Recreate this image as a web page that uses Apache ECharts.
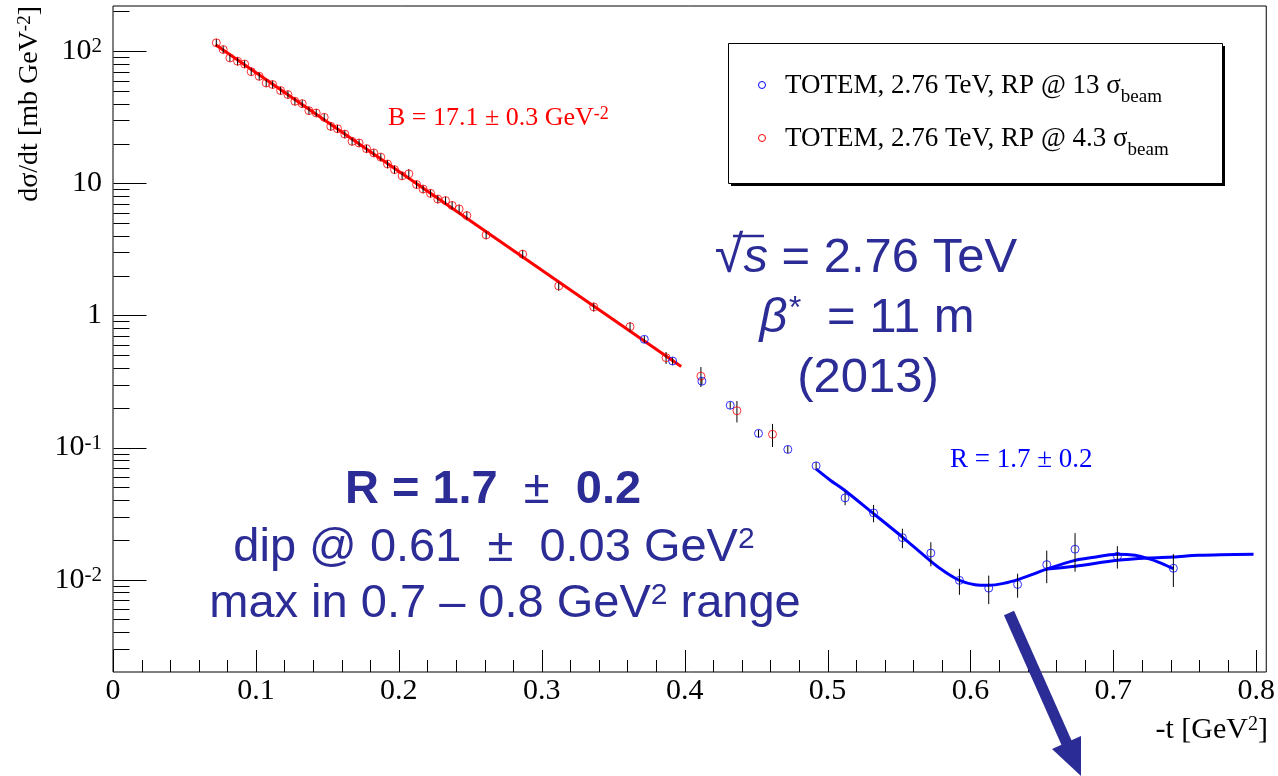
<!DOCTYPE html>
<html>
<head>
<meta charset="utf-8">
<script src="https://cdn.jsdelivr.net/npm/echarts@6/dist/echarts.min.js"></script>
<style>
  html, body { margin: 0; padding: 0; background: #fff; }
  #main { width: 1278px; height: 776px; }
</style>
</head>
<body>
<div id="main"></div>
<script>
// RP @ 4.3 sigma (red)
var redT = [0.0723, 0.0771, 0.0818, 0.0872, 0.0921, 0.0967, 0.1023, 0.1072, 0.1117, 0.1173, 0.1224, 0.1273, 0.1324, 0.1371, 0.1422, 0.1478, 0.1524, 0.1571, 0.1622, 0.1673, 0.1722, 0.1774, 0.1825, 0.1874, 0.1921, 0.197, 0.2023, 0.207, 0.2124, 0.217, 0.2222, 0.2273, 0.2327, 0.2373, 0.2422, 0.2476, 0.2611, 0.2867, 0.3119, 0.3364, 0.3618, 0.387, 0.4114, 0.4366, 0.4615];
var redY = [115.8, 103, 89, 84, 80, 70, 64.6, 57.5, 56, 50.4, 47, 41.8, 40.1, 35.5, 34.1, 31.6, 27, 25.9, 23.6, 20.8, 20.2, 18.3, 17, 15.8, 14, 12.7, 11.4, 11.8, 9.8, 9.06, 8.4, 7.6, 7.4, 6.8, 6.4, 5.7, 4.07, 2.91, 1.67, 1.16, 0.822, 0.479, 0.347, 0.19, 0.126];
var redErr = [8, 7, 6, 6, 5.5, 5, 4.5, 4, 4, 3.5, 3.3, 3, 2.8, 2.5, 2.4, 2.2, 1.9, 1.8, 1.7, 1.5, 1.4, 1.3, 1.2, 1.1, 1.0, 0.9, 0.8, 1.0, 0.7, 0.65, 0.6, 0.55, 0.55, 0.5, 0.5, 0.45, 0.3, 0.22, 0.13, 0.09, 0.07, 0.05, 0.06, 0.035, 0.025];

// RP @ 13 sigma (blue)
var blueT = [0.3718, 0.3916, 0.4121, 0.4319, 0.4517, 0.4722, 0.492, 0.5123, 0.5322, 0.5524, 0.5723, 0.5923, 0.6128, 0.633, 0.6534, 0.6732, 0.7028, 0.742];
var blueY = [0.66, 0.452, 0.318, 0.209, 0.128, 0.0968, 0.0727, 0.0416, 0.032, 0.0208, 0.0159, 0.00988, 0.00863, 0.0092, 0.013, 0.017, 0.01503, 0.0122];
var blueErr = [0.04, 0.03, 0.02, 0.013, 0.008, 0.006, 0.005, 0.005, 0.0048, 0.0035, 0.0033, 0.0022, 0.0021, 0.0019, 0.0036, 0.0055, 0.0029, 0.0034];

// fits
var redFitT = [0.0718, 0.3976];
var redFitY = [112, 0.41];
var blueFitT = [0.4921, 0.5019, 0.5119, 0.5322, 0.5524, 0.5723, 0.5823, 0.5923, 0.6032, 0.6128, 0.6242, 0.6331, 0.6429, 0.6534, 0.6732, 0.6849, 0.7028, 0.7152, 0.7245, 0.7315, 0.742];
var blueFitY = [0.0686, 0.0566, 0.0475, 0.0316, 0.0210, 0.01377, 0.01143, 0.00989, 0.00916, 0.00906, 0.00942, 0.0100, 0.01091, 0.01202, 0.0140, 0.01469, 0.01556, 0.01528, 0.01442, 0.01358, 0.01211];
var blueFit2T = [0.6534, 0.6732, 0.7028, 0.7245, 0.742, 0.7594, 0.7981];
var blueFit2Y = [0.01202, 0.01262, 0.0140, 0.01459, 0.01483, 0.01528, 0.01556];

// axes
var xMin = 0, xMax = 0.807;
var yMin = 0.002, yMax = 220;
var yMajor = [0.01, 0.1, 1, 10, 100];
var yMajorLabels = ['{b|10}{s|-2}', '{b|10}{s|-1}', '{b|1}', '{b|10}', '{b|10}{s|2}'];

var serif = 'Liberation Serif';
var sans = 'Liberation Sans';
var navy = '#2c2c96';

function zip(a, b) { return a.map(function (v, i) { return [v, b[i]]; }); }
function errData(t, y, e) { return t.map(function (v, i) { return [v, y[i] - e[i], y[i] + e[i]]; }); }

var yMinor = [];
[0.001, 0.01, 0.1, 1, 10, 100].forEach(function (d) {
  for (var k = 2; k <= 9; k++) {
    var v = k * d;
    if (v > yMin * 1.05 && v < yMax) yMinor.push(v);
  }
});
var yTickData = yMajor.map(function (v) { return [0, v, 1]; })
  .concat(yMinor.map(function (v) { return [0, v, 0]; }));

var xTickData = [];
for (var i = 0; i <= 40; i++) {
  xTickData.push([Math.round(i * 2) / 100, yMin, i % 5 === 0 ? 1 : 0]);
}

function renderErr(params, api) {
  var a = api.coord([api.value(0), api.value(1)]);
  var b = api.coord([api.value(0), api.value(2)]);
  return { type: 'line', shape: { x1: a[0], y1: a[1], x2: b[0], y2: b[1] },
    style: { stroke: '#000', lineWidth: 1 } };
}

function renderYTick(params, api) {
  var p = api.coord([0, api.value(1)]);
  var major = api.value(2) === 1;
  var x0 = Math.round(p[0]) + 0.5, y0 = Math.round(p[1]) + 0.5;
  var children = [{
    type: 'line',
    shape: { x1: x0, y1: y0, x2: x0 + (major ? 33 : 16), y2: y0 },
    style: { stroke: '#000', lineWidth: 1 }
  }];
  if (major) {
    children.push({
      type: 'text',
      style: {
        x: p[0] - 11, y: p[1], align: 'right', verticalAlign: 'middle',
        text: yMajorLabels[params.dataIndex],
        rich: {
          b: { fontFamily: serif, fontSize: 30, fill: '#000' },
          s: { fontFamily: serif, fontSize: 21, fill: '#000', verticalAlign: 'top' }
        }
      }
    });
  }
  return { type: 'group', children: children };
}

function renderXTick(params, api) {
  var p = api.coord([api.value(0), yMin]);
  var major = api.value(2) === 1;
  var x0 = Math.round(p[0]) + 0.5, y0 = Math.round(p[1]);
  return {
    type: 'line',
    shape: { x1: x0, y1: y0, x2: x0, y2: y0 - (major ? 22 : 12) },
    style: { stroke: '#000', lineWidth: 1 }
  };
}

var chart = echarts.init(document.getElementById('main'));
var option = {
  animation: false,
  backgroundColor: '#fff',
  grid: { left: 113, right: 9, top: 6, bottom: 104, show: true, borderColor: '#000', borderWidth: 1 },
  xAxis: {
    type: 'value', min: xMin, max: xMax, interval: 0.1,
    axisLine: { show: false }, axisTick: { show: false }, splitLine: { show: false },
    axisLabel: {
      margin: 4, fontFamily: serif, fontSize: 30, color: '#000',
      formatter: function (v) {
        return Math.abs(v * 10 - Math.round(v * 10)) < 1e-6 ? String(Math.round(v * 10) / 10) : '';
      }
    }
  },
  yAxis: {
    type: 'log', logBase: 10, min: yMin, max: yMax,
    axisLine: { show: false }, axisTick: { show: false }, splitLine: { show: false },
    axisLabel: { show: false }
  },
  series: [
    { type: 'custom', name: 'yticks', renderItem: renderYTick, data: yTickData, silent: true, z: 1 },
    { type: 'custom', name: 'xticks', renderItem: renderXTick, data: xTickData, silent: true, z: 1 },
    {
      type: 'line', name: 'fit red', data: zip(redFitT, redFitY), showSymbol: false,
      lineStyle: { color: '#ff0000', width: 3 }, z: 2
    },
    {
      type: 'line', name: 'fit blue 1', data: zip(blueFitT, blueFitY), showSymbol: false, smooth: 0.3,
      lineStyle: { color: '#0000ff', width: 3 }, z: 2
    },
    {
      type: 'line', name: 'fit blue 2', data: zip(blueFit2T, blueFit2Y), showSymbol: false, smooth: 0.3,
      lineStyle: { color: '#0000ff', width: 3 }, z: 2
    },
    { type: 'custom', name: 'err red', renderItem: renderErr, data: errData(redT, redY, redErr), encode: { x: 0, y: [1, 2] }, z: 3 },
    { type: 'custom', name: 'err blue', renderItem: renderErr, data: errData(blueT, blueY, blueErr), encode: { x: 0, y: [1, 2] }, z: 3 },
    {
      type: 'scatter', name: 'TOTEM, 2.76 TeV, RP @ 4.3 σ', data: zip(redT, redY),
      symbol: 'circle', symbolSize: 8,
      itemStyle: { color: 'rgba(0,0,0,0)', borderColor: '#ff0000', borderWidth: 1 }, z: 4
    },
    {
      type: 'scatter', name: 'TOTEM, 2.76 TeV, RP @ 13 σ', data: zip(blueT, blueY),
      symbol: 'circle', symbolSize: 8,
      itemStyle: { color: 'rgba(0,0,0,0)', borderColor: '#0000ff', borderWidth: 1 }, z: 4
    }
  ],
  graphic: [
    // axis titles
    {
      type: 'text', x: 30, y: 6, rotation: Math.PI / 2,
      style: {
        text: '{n|dσ/dt [mb GeV}{s|-2}{n|]}', align: 'right', verticalAlign: 'middle',
        rich: {
          n: { fontFamily: serif, fontSize: 28, fill: '#000' },
          s: { fontFamily: serif, fontSize: 19, fill: '#000', verticalAlign: 'top' }
        }
      }
    },
    {
      type: 'text', x: 1268, y: 730,
      style: {
        text: '{n|-t [GeV}{s|2}{n|]}', align: 'right', verticalAlign: 'middle',
        rich: {
          n: { fontFamily: serif, fontSize: 30, fill: '#000' },
          s: { fontFamily: serif, fontSize: 20, fill: '#000', verticalAlign: 'top' }
        }
      }
    },
    // legend box
    { type: 'rect', shape: { x: 731, y: 46, width: 494, height: 140 }, style: { fill: '#000' }, z: 10 },
    { type: 'rect', shape: { x: 728.5, y: 43.5, width: 494, height: 140 }, style: { fill: '#fff', stroke: '#000', lineWidth: 1 }, z: 11 },
    { type: 'circle', shape: { cx: 762, cy: 85, r: 3.5 }, style: { fill: 'none', stroke: '#0000ff', lineWidth: 1 }, z: 12 },
    { type: 'circle', shape: { cx: 762, cy: 138, r: 3.5 }, style: { fill: 'none', stroke: '#ff0000', lineWidth: 1 }, z: 12 },
    {
      type: 'text', x: 785, y: 86, z: 12,
      style: {
        text: '{n|TOTEM, 2.76 TeV, RP @ 13 σ}{s|beam}', align: 'left', verticalAlign: 'middle',
        rich: {
          n: { fontFamily: serif, fontSize: 27, fill: '#000' },
          s: { fontFamily: serif, fontSize: 19, fill: '#000', verticalAlign: 'bottom', padding: [0, 0, -7, 0] }
        }
      }
    },
    {
      type: 'text', x: 785, y: 139, z: 12,
      style: {
        text: '{n|TOTEM, 2.76 TeV, RP @ 4.3 σ}{s|beam}', align: 'left', verticalAlign: 'middle',
        rich: {
          n: { fontFamily: serif, fontSize: 27, fill: '#000' },
          s: { fontFamily: serif, fontSize: 19, fill: '#000', verticalAlign: 'bottom', padding: [0, 0, -7, 0] }
        }
      }
    },
    // fit results
    {
      type: 'text', x: 388, y: 118,
      style: {
        text: '{n|B = 17.1 ± 0.3 GeV}{s|-2}', align: 'left', verticalAlign: 'middle',
        rich: {
          n: { fontFamily: serif, fontSize: 26, fill: '#ff0000' },
          s: { fontFamily: serif, fontSize: 18, fill: '#ff0000', verticalAlign: 'top' }
        }
      }
    },
    {
      type: 'text', x: 950, y: 460,
      style: { text: 'R = 1.7 ± 0.2', align: 'left', verticalAlign: 'middle', font: '27px "Liberation Serif"', fill: '#0000ff' }
    },
    // big annotations
    {
      type: 'text', x: 866, y: 258,
      style: {
        text: '{r|√}{i|s}{n| = 2.76 TeV}', align: 'center', verticalAlign: 'middle',
        rich: {
          r: { fontFamily: sans, fontSize: 52, fill: navy },
          n: { fontFamily: sans, fontSize: 49, fill: navy },
          i: { fontFamily: sans, fontSize: 49, fontStyle: 'italic', fill: navy }
        }
      }
    },
    {
      type: 'line', shape: { x1: 733, y1: 236, x2: 764, y2: 236 },
      style: { stroke: navy, lineWidth: 2.5 }
    },
    {
      type: 'text', x: 867, y: 318,
      style: {
        text: '{i|β}{s|*}{n|  = 11 m}', align: 'center', verticalAlign: 'middle',
        rich: {
          n: { fontFamily: sans, fontSize: 49, fill: navy },
          i: { fontFamily: sans, fontSize: 49, fontStyle: 'italic', fill: navy },
          s: { fontFamily: sans, fontSize: 32, fontStyle: 'italic', fill: navy, verticalAlign: 'top' }
        }
      }
    },
    {
      type: 'text', x: 868, y: 378,
      style: { text: '(2013)', align: 'center', verticalAlign: 'middle', font: '49px "Liberation Sans"', fill: navy }
    },
    {
      type: 'text', x: 493, y: 490,
      style: {
        text: '{b|R = 1.7 }{n| ± }{b| 0.2}', align: 'center', verticalAlign: 'middle',
        rich: {
          b: { fontFamily: sans, fontSize: 47, fontWeight: 'bold', fill: navy },
          n: { fontFamily: sans, fontSize: 47, fill: navy }
        }
      }
    },
    {
      type: 'text', x: 494, y: 548,
      style: {
        text: '{n|dip @ 0.61  ±  0.03 GeV}{s|2}', align: 'center', verticalAlign: 'middle',
        rich: {
          n: { fontFamily: sans, fontSize: 47, fill: navy },
          s: { fontFamily: sans, fontSize: 30, fill: navy, verticalAlign: 'top' }
        }
      }
    },
    {
      type: 'text', x: 505, y: 604,
      style: {
        text: '{n|max in 0.7 – 0.8 GeV}{s|2}{n| range}', align: 'center', verticalAlign: 'middle',
        rich: {
          n: { fontFamily: sans, fontSize: 47, fill: navy },
          s: { fontFamily: sans, fontSize: 30, fill: navy, verticalAlign: 'top' }
        }
      }
    },
    // arrow
    {
      type: 'polyline', shape: { points: [[1009, 613], [1068, 746]] },
      style: { stroke: navy, lineWidth: 11, lineCap: 'butt' }, z: 20
    },
    {
      type: 'polygon', shape: { points: [[1081, 776], [1052, 749], [1081, 736]] },
      style: { fill: navy }, z: 20
    }
  ]
};
chart.setOption(option);
</script>
</body>
</html>
